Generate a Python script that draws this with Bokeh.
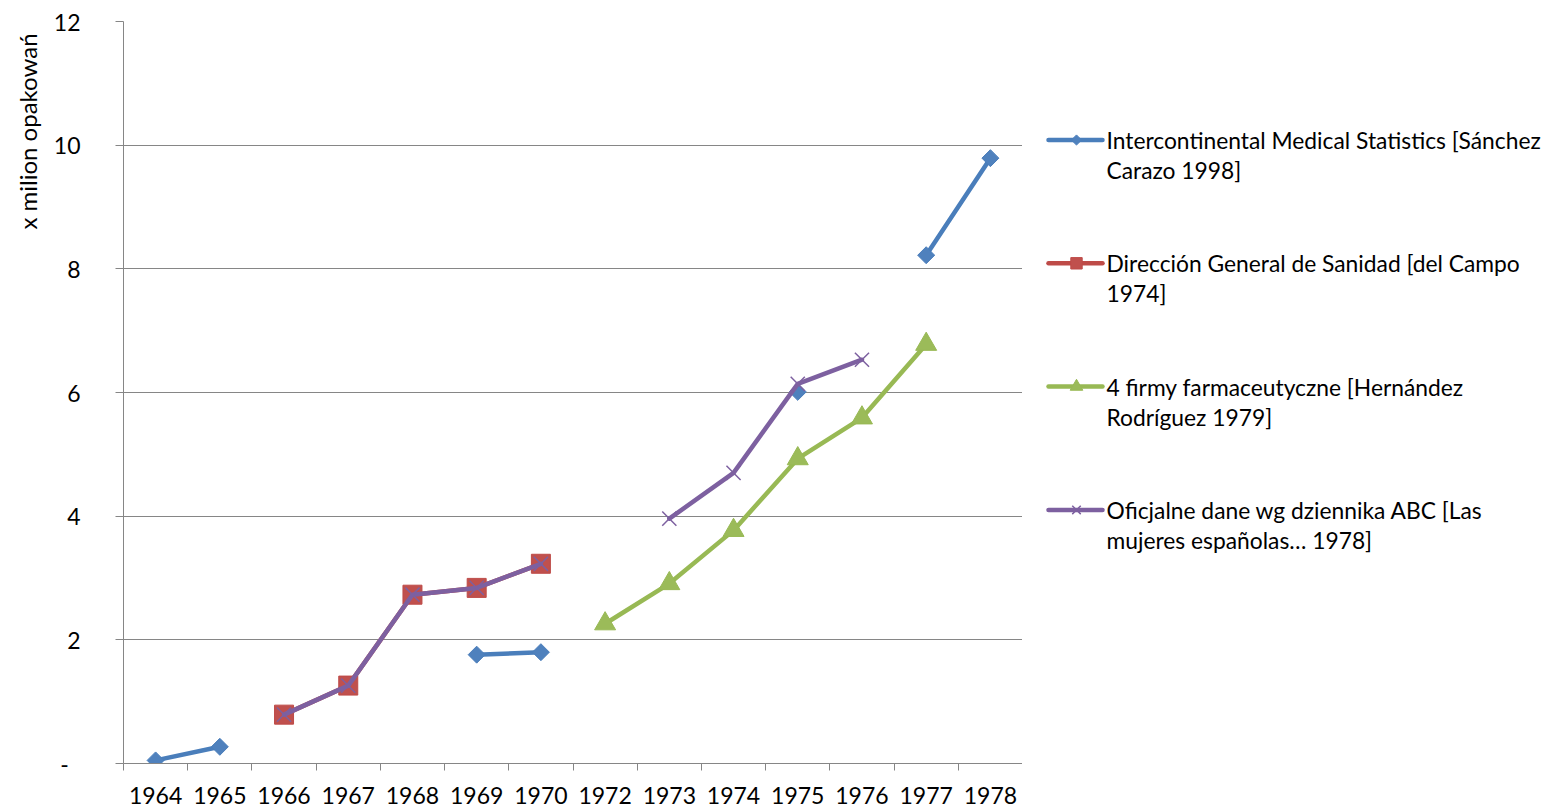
import math
from bokeh.plotting import figure
from bokeh.models import FixedTicker, Range1d
from bokeh.layouts import row
from bokeh.core.properties import value
from bokeh.embed import file_html
from bokeh.resources import INLINE

nan = float("nan")

years = ["1964", "1965", "1966", "1967", "1968", "1969", "1970",
         "1972", "1973", "1974", "1975", "1976", "1977", "1978"]

ims = [0.05, 0.27, nan, nan, nan, 1.76, 1.80, nan, nan, nan, 6.01, nan, 8.22, 9.79]
dgs = [nan, nan, 0.79, 1.26, 2.73, 2.84, 3.23, nan, nan, nan, nan, nan, nan, nan]
firms = [nan, nan, nan, nan, nan, nan, nan, 2.26, 2.91, 3.77, 4.93, 5.59, 6.78, nan]
abc = [nan, nan, 0.79, 1.26, 2.73, 2.84, 3.23, nan, 3.96, 4.70, 6.14, 6.53, nan, nan]

y_ticks = [0, 2, 4, 6, 8, 10, 12]
y_title = "x milion opakowań"

legend_lines = [
    ["Intercontinental Medical Statistics [Sánchez", "Carazo 1998]"],
    ["Dirección General de Sanidad [del Campo", "1974]"],
    ["4 firmy farmaceutyczne [Hernández", "Rodríguez 1979]"],
    ["Oficjalne dane wg dziennika ABC [Las", "mujeres españolas… 1978]"],
]

FONT = "Lato"
FS = "23px"
GRID = "#868686"

series = [
    dict(vals=ims, line="#4A7EBB", fill="#4F81BD", marker="square", angle=math.pi / 4, size=12, lw_m=1),
    dict(vals=dgs, line="#BE4B48", fill="#C0504D", marker="square", angle=0, size=19, lw_m=1),
    dict(vals=firms, line="#98B954", fill="#9BBB59", marker="triangle", angle=0, size=21, lw_m=1),
    dict(vals=abc, line="#7D60A0", fill="#8064A2", marker="x", angle=0, size=20, lw_m=1.5),
]

n = len(years)
xs = list(range(n))

TOP, FRAME_H = 21, 742
LEFT_W = 50

# ---------- left panel with the y-axis title ----------
tf = figure(width=LEFT_W, frame_height=FRAME_H, output_backend="svg", toolbar_location=None,
            x_range=Range1d(0, LEFT_W), y_range=Range1d(TOP + FRAME_H, TOP),
            min_border_left=0, min_border_right=0, min_border_top=TOP, min_border_bottom=45)
tf.axis.visible = False
tf.grid.grid_line_color = None
tf.outline_line_color = None
tf.text([27], [131], text=[y_title], angle=math.pi / 2, text_align="center", text_baseline="middle",
        text_font=value(FONT), text_font_size="24px", text_color="black")

# ---------- main chart ----------
p = figure(frame_width=899, frame_height=FRAME_H, output_backend="svg", toolbar_location=None,
           x_range=Range1d(-0.5, n - 0.5), y_range=Range1d(0, 12),
           min_border_left=123 - LEFT_W, min_border_right=0, min_border_top=TOP, min_border_bottom=45)
p.outline_line_color = None

p.xaxis.ticker = FixedTicker(ticks=xs, minor_ticks=[i - 0.5 for i in range(n + 1)])
p.xaxis.major_label_overrides = {i: y for i, y in enumerate(years)}
p.xaxis.major_tick_line_color = None
p.xaxis.major_tick_out = 0
p.xaxis.major_tick_in = 0
p.xaxis.minor_tick_line_color = GRID
p.xaxis.minor_tick_out = 7
p.xaxis.minor_tick_in = 0
p.xaxis.axis_line_color = GRID
p.xaxis.major_label_standoff = 16
p.xaxis.major_label_text_font = FONT
p.xaxis.major_label_text_font_size = FS
p.xaxis.major_label_text_color = "black"

p.yaxis.ticker = FixedTicker(ticks=y_ticks)
p.yaxis.major_label_overrides = {0: "-\u00a0\u00a0"}
p.yaxis.major_tick_line_color = GRID
p.yaxis.major_tick_out = 8
p.yaxis.major_tick_in = 0
p.yaxis.minor_tick_line_color = None
p.yaxis.axis_line_color = GRID
p.yaxis.major_label_standoff = 35
p.yaxis.major_label_text_font = FONT
p.yaxis.major_label_text_font_size = FS
p.yaxis.major_label_text_color = "black"

p.xgrid.grid_line_color = None
p.ygrid.ticker = FixedTicker(ticks=y_ticks)
p.ygrid.grid_line_color = GRID
p.ygrid.grid_line_width = 1

for s in series:
    p.line(xs, s["vals"], line_color=s["line"], line_width=4.5, line_join="round", line_cap="round")
    sx = [x for x, v in zip(xs, s["vals"]) if not math.isnan(v)]
    sy = [v for v in s["vals"] if not math.isnan(v)]
    p.scatter(sx, sy, marker=s["marker"], size=s["size"], angle=s["angle"],
              fill_color=s["fill"], line_color=s["line"], line_width=s["lw_m"])

# ---------- legend panel ----------
LG_W = 1544 - 1022
lg = figure(width=LG_W, frame_height=FRAME_H, output_backend="svg", toolbar_location=None,
            x_range=Range1d(0, LG_W), y_range=Range1d(TOP + FRAME_H, TOP),
            min_border_left=0, min_border_right=0, min_border_top=TOP, min_border_bottom=45)
lg.axis.visible = False
lg.grid.grid_line_color = None
lg.outline_line_color = None

row_y0 = 139.5
row_step = 123.3
line_h = 30
gx0, gx1, mx, tx = 26, 80, 54, 84
for i, (s, labels) in enumerate(zip(series, legend_lines)):
    yc = row_y0 + i * row_step
    lg.line([gx0, gx1], [yc, yc], line_color=s["line"], line_width=4.5, line_cap="round")
    msize = s["size"] * 0.6
    lg.scatter([mx], [yc], marker=s["marker"], size=msize, angle=s["angle"],
               fill_color=s["fill"], line_color=s["line"], line_width=s["lw_m"])
    lg.text([tx] * len(labels), [yc + k * line_h for k in range(len(labels))], text=labels,
            text_font=value(FONT), text_font_size="22.8px", text_baseline="middle", text_align="left",
            text_color="black")

layout = row(tf, p, lg)
open("out.html", "w").write(file_html(layout, INLINE))
